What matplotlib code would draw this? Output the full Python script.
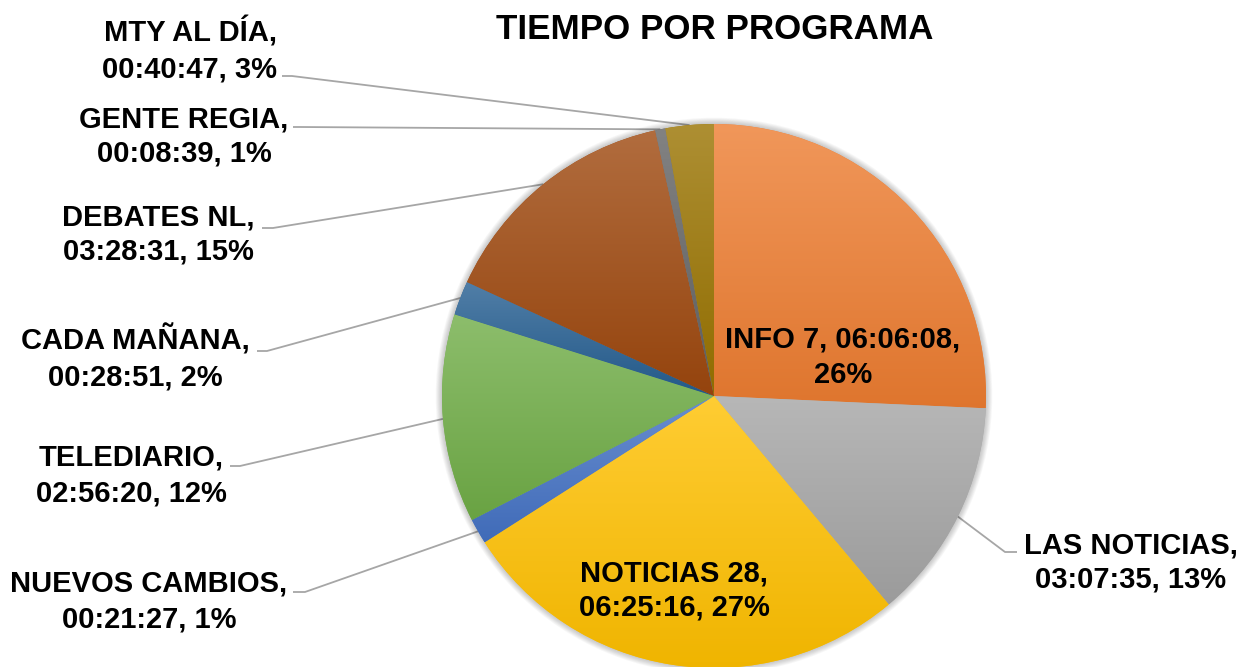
import numpy as np
import matplotlib.pyplot as plt
from matplotlib.colors import to_rgb
from matplotlib.patches import Circle

W, H = 1237, 667

programas = ["INFO 7", "LAS NOTICIAS", "NOTICIAS 28", "NUEVOS CAMBIOS", "TELEDIARIO",
             "CADA MAÑANA", "DEBATES NL", "GENTE REGIA", "MTY AL DÍA"]
tiempos = ["06:06:08", "03:07:35", "06:25:16", "00:21:27", "02:56:20",
           "00:28:51", "03:28:31", "00:08:39", "00:40:47"]
porcentajes = [26, 13, 27, 1, 12, 2, 15, 1, 3]

colores = ["#ED7D31", "#A5A5A5", "#FFC000", "#4472C4", "#70AD47",
           "#255E91", "#9E480E", "#636363", "#997300"]

# tiempo "hh:mm:ss" -> segundos
segundos = [int(h) * 3600 + int(m) * 60 + int(s) for h, m, s in (t.split(":") for t in tiempos)]

# posicion de etiquetas (pixeles): x centro, baseline linea 1, corte, inicio de la guia
etiquetas = [
    (843, 348, 2, None),
    (1131, 553, 1, [(1017, 552), (1005, 552)]),
    (674, 581, 1, None),
    (149, 592, 1, [(293, 592), (305, 592)]),
    (131, 466, 1, [(230, 466), (240, 466)]),
    (135, 350, 1, [(257, 351), (267, 351)]),
    (158, 225, 1, [(262, 228), (273, 228)]),
    (184, 127, 1, [(293, 127), (300, 127)]),
    (190, 42, 1, [(282, 76), (292, 76)]),
]

plt.rcParams['font.family'] = ['Liberation Sans', 'DejaVu Sans']

fig = plt.figure(figsize=(W / 100, H / 100), dpi=100)
ax = fig.add_axes([0, 0, 1, 1])

cx, cy, r = 714, H - 396, 272

# sombra suave alrededor
for k in range(7, 0, -1):
    ax.add_patch(Circle((cx, cy), r + k * 0.9, color="black", alpha=0.03, lw=0, zorder=1))

wedges, _ = ax.pie(segundos, center=(cx, cy), radius=r, startangle=90, counterclock=False,
                   colors=colores, wedgeprops=dict(linewidth=0), frame=False)


def degradado(c):
    c = np.array(to_rgb(c))
    top = c + (1 - c) * 0.2
    bot = c * 0.94
    t = np.linspace(0, 1, 256)[:, None]
    return (bot * (1 - t) + top * t)[:, None, :]


for w, c in zip(wedges, colores):
    w.set_zorder(2)
    ang = np.radians(np.linspace(w.theta1, w.theta2, 100))
    xs = np.r_[cx, cx + r * np.cos(ang)]
    ys = np.r_[cy, cy + r * np.sin(ang)]
    im = ax.imshow(degradado(c), extent=(xs.min(), xs.max(), ys.min(), ys.max()),
                   origin="lower", aspect="auto", zorder=3, interpolation="bilinear")
    im.set_clip_path(w)

for i, (w, (x, y, corte, guia)) in enumerate(zip(wedges, etiquetas)):
    if corte == 1:
        l1 = f"{programas[i]},"
        l2 = f"{tiempos[i]}, {porcentajes[i]}%"
    else:
        l1 = f"{programas[i]}, {tiempos[i]},"
        l2 = f"{porcentajes[i]}%"
    ax.text(x, H - y, l1, ha="center", va="baseline", fontsize=21, fontweight="bold", zorder=5)
    ax.text(x, H - y - 35, l2, ha="center", va="baseline", fontsize=21, fontweight="bold", zorder=5)
    if guia:
        a = np.radians((w.theta1 + w.theta2) / 2)
        px = [p[0] for p in guia] + [cx + r * np.cos(a)]
        py = [H - p[1] for p in guia] + [cy + r * np.sin(a)]
        ax.plot(px, py, color="#A6A6A6", lw=1.3, zorder=0.5, solid_capstyle="butt")

ax.text(714.5, H - 39, "TIEMPO POR PROGRAMA", ha="center", va="baseline",
        fontsize=25.2, fontweight="bold")

ax.set_xlim(0, W)
ax.set_ylim(0, H)
ax.set_aspect("equal")
ax.axis("off")

plt.savefig("out.png", dpi=100)
